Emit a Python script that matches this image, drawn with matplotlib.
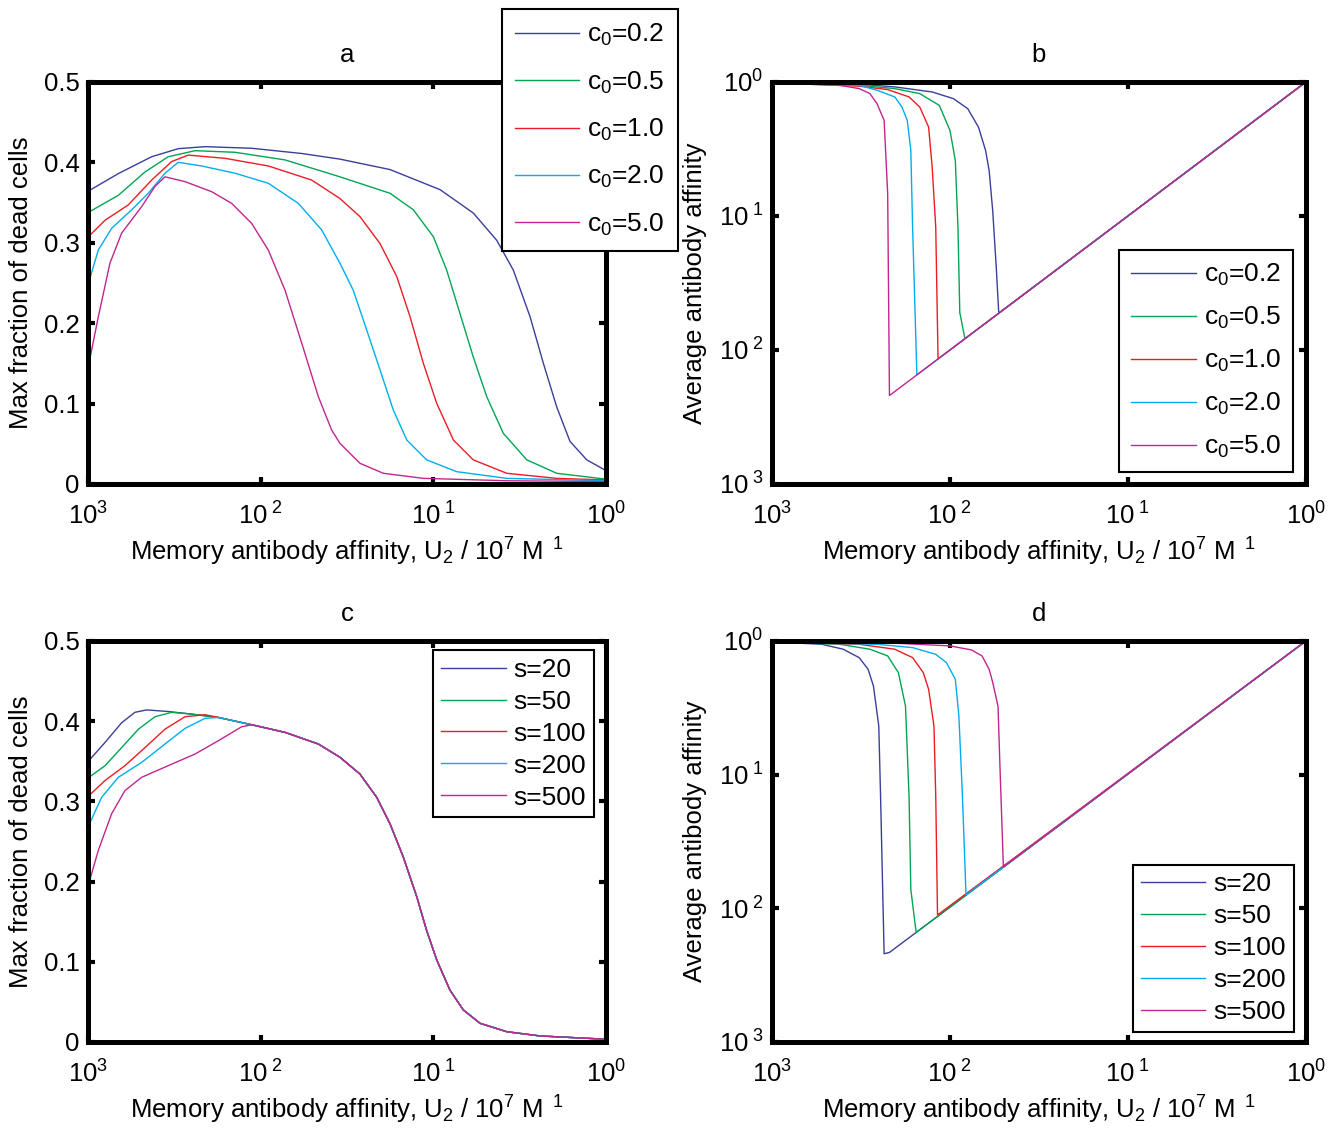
import numpy as np
import matplotlib
matplotlib.use("Agg")
import matplotlib.pyplot as plt

plt.rcParams['font.family'] = 'Liberation Sans'
plt.rcParams['mathtext.fontset'] = 'custom'
plt.rcParams['mathtext.rm'] = 'Liberation Sans'
plt.rcParams['mathtext.it'] = 'Liberation Sans'
plt.rcParams['font.size'] = 18.5

# colores de las series
cols = ['#3a3f9a', '#00a651', '#ed1c24', '#00aeef', '#c2258f']

# ---- panel a: c0, log10(U2) vs max fraction of dead cells ----
c0_labels = ['c$_0$=0.2', 'c$_0$=0.5', 'c$_0$=1.0', 'c$_0$=2.0', 'c$_0$=5.0']
a_x = [
    [-3.0, -2.824, -2.631, -2.477, -2.322, -2.052, -1.762, -1.541, -1.251, -0.961, -0.769, -0.633, -0.537, -0.440, -0.363, -0.286, -0.209, -0.112, 0.0],
    [-3.0, -2.824, -2.670, -2.535, -2.380, -2.149, -1.859, -1.541, -1.251, -1.116, -1.0, -0.923, -0.846, -0.769, -0.691, -0.595, -0.459, -0.286, 0.0],
    [-3.0, -2.901, -2.767, -2.631, -2.515, -2.419, -2.207, -1.956, -1.705, -1.541, -1.425, -1.309, -1.212, -1.135, -1.058, -0.980, -0.884, -0.769, -0.575, -0.286, 0.0],
    [-3.0, -2.940, -2.863, -2.747, -2.651, -2.554, -2.477, -2.342, -2.149, -1.956, -1.782, -1.647, -1.541, -1.464, -1.386, -1.309, -1.232, -1.154, -1.039, -0.865, -0.575, 0.0],
    [-3.0, -2.940, -2.873, -2.805, -2.689, -2.612, -2.554, -2.438, -2.284, -2.168, -2.052, -1.956, -1.859, -1.762, -1.666, -1.589, -1.541, -1.425, -1.290, -1.058, -0.575, 0.0],
]
a_y = [
    [0.364, 0.386, 0.407, 0.417, 0.4195, 0.4175, 0.411, 0.404, 0.391, 0.366, 0.337, 0.303, 0.266, 0.208, 0.150, 0.096, 0.053, 0.030, 0.0166],
    [0.3375, 0.359, 0.388, 0.407, 0.4145, 0.4125, 0.403, 0.382, 0.3615, 0.341, 0.3075, 0.266, 0.212, 0.158, 0.1086, 0.063, 0.030, 0.0133, 0.006],
    [0.307, 0.328, 0.347, 0.378, 0.401, 0.409, 0.405, 0.3955, 0.378, 0.355, 0.3325, 0.299, 0.258, 0.208, 0.150, 0.100, 0.0547, 0.030, 0.0133, 0.007, 0.005],
    [0.2475, 0.291, 0.318, 0.341, 0.3615, 0.3865, 0.400, 0.3955, 0.3865, 0.374, 0.349, 0.316, 0.2745, 0.241, 0.1915, 0.142, 0.092, 0.0547, 0.030, 0.0153, 0.007, 0.004],
    [0.144, 0.208, 0.2745, 0.312, 0.345, 0.370, 0.382, 0.376, 0.3635, 0.349, 0.324, 0.291, 0.241, 0.175, 0.1086, 0.067, 0.0506, 0.0257, 0.0133, 0.007, 0.004, 0.003],
]

# ---- panel b: log10(U2) vs log10(average affinity) ----
b_x = [
    [-3.0, -2.51, -2.31, -2.10, -1.98, -1.90, -1.84, -1.80, -1.78, -1.76, -1.74, -1.726, 0.0],
    [-3.0, -2.51, -2.31, -2.17, -2.06, -2.00, -1.97, -1.955, -1.945, -1.916, 0.0],
    [-3.0, -2.51, -2.35, -2.23, -2.17, -2.12, -2.10, -2.08, -2.067, 0.0],
    [-3.0, -2.51, -2.41, -2.31, -2.27, -2.24, -2.22, -2.21, -2.186, 0.0],
    [-3.0, -2.62, -2.51, -2.45, -2.41, -2.37, -2.35, -2.34, 0.0],
]
b_y = [
    [-0.007, -0.017, -0.037, -0.075, -0.125, -0.20, -0.337, -0.511, -0.661, -0.960, -1.384, -1.726, 0.0],
    [-0.007, -0.025, -0.05, -0.087, -0.175, -0.362, -0.586, -1.09, -1.72, -1.916, 0.0],
    [-0.007, -0.032, -0.057, -0.112, -0.187, -0.337, -0.636, -1.085, -2.067, 0.0],
    [-0.007, -0.025, -0.062, -0.112, -0.187, -0.287, -0.511, -1.085, -2.186, 0.0],
    [-0.007, -0.025, -0.05, -0.087, -0.162, -0.287, -0.835, -2.34, 0.0],
]

# ---- panel c: s, max fraction of dead cells ----
s_labels = ['s=20', 's=50', 's=100', 's=200', 's=500']
c_tail_x = [-2.245, -2.052, -1.859, -1.666, -1.541, -1.425, -1.328, -1.251, -1.174, -1.096, -1.039, -0.980, -0.904, -0.827, -0.730, -0.575, -0.382, 0.0]
c_tail_y = [0.4046, 0.3955, 0.386, 0.3715, 0.355, 0.334, 0.305, 0.272, 0.2305, 0.181, 0.139, 0.102, 0.0647, 0.040, 0.0233, 0.0128, 0.0075, 0.0034]
c_x = [
    [-3.0, -2.901, -2.805, -2.728, -2.660, -2.535, -2.400],
    [-3.0, -2.901, -2.805, -2.708, -2.612, -2.515, -2.400],
    [-3.0, -2.901, -2.786, -2.670, -2.554, -2.438, -2.322],
    [-3.0, -2.921, -2.824, -2.689, -2.554, -2.438, -2.322],
    [-3.0, -2.940, -2.863, -2.786, -2.689, -2.535, -2.380, -2.245, -2.110],
]
c_y = [
    [0.3495, 0.3735, 0.398, 0.411, 0.414, 0.412, 0.4088],
    [0.329, 0.3445, 0.367, 0.390, 0.4055, 0.411, 0.4088],
    [0.306, 0.326, 0.3445, 0.367, 0.390, 0.4055, 0.408],
    [0.268, 0.305, 0.330, 0.3486, 0.3715, 0.391, 0.4035],
    [0.194, 0.239, 0.2845, 0.3134, 0.330, 0.3445, 0.359, 0.3756, 0.393],
]
c_start = [0, 0, 0, 0, 1]  # donde empieza la cola comun

# ---- panel d: s, average affinity ----
d_x = [
    [-3.0, -2.72, -2.60, -2.51, -2.46, -2.43, -2.40, -2.39, -2.37, -2.34, 0.0],
    [-3.0, -2.62, -2.45, -2.35, -2.29, -2.25, -2.23, -2.22, -2.19, 0.0],
    [-3.0, -2.51, -2.31, -2.21, -2.15, -2.12, -2.09, -2.08, -2.07, 0.0],
    [-3.0, -2.41, -2.21, -2.08, -2.02, -1.97, -1.95, -1.93, -1.91, 0.0],
    [-3.0, -2.31, -2.0, -1.88, -1.82, -1.78, -1.76, -1.73, -1.72, -1.70, 0.0],
]
d_y = [
    [-0.007, -0.025, -0.062, -0.125, -0.212, -0.337, -0.637, -1.16, -2.34, -2.33, 0.0],
    [-0.007, -0.025, -0.062, -0.112, -0.237, -0.487, -1.16, -1.86, -2.18, 0.0],
    [-0.007, -0.025, -0.062, -0.125, -0.237, -0.362, -0.637, -1.16, -2.05, 0.0],
    [-0.007, -0.025, -0.05, -0.1, -0.162, -0.287, -0.562, -1.16, -1.90, 0.0],
    [-0.007, -0.017, -0.037, -0.067, -0.112, -0.212, -0.31, -0.49, -0.91, -1.69, 0.0],
]

xticklabs = ['10$^{3}$', '10$^{\\ 2}$', '10$^{\\ 1}$', '10$^{0}$']
yloglabs = ['10$^{\\ 3}$', '10$^{\\ 2}$', '10$^{\\ 1}$', '10$^{0}$']
xlab = 'Memory antibody affinity, U$_2$ / 10$^7$ M$^{\\ \\ 1}$'

fig = plt.figure(figsize=(13.37, 11.30), dpi=100)
axa = fig.add_axes([0.0658, 0.5717, 0.3875, 0.3558])
axb = fig.add_axes([0.5774, 0.5717, 0.3994, 0.3558])
axc = fig.add_axes([0.0658, 0.0779, 0.3875, 0.3549])
axd = fig.add_axes([0.5774, 0.0779, 0.3994, 0.3549])


def estilo(ax, titulo, ylog):
    ax.set_xscale('log')
    ax.set_xlim(1e-3, 1)
    ax.set_xticks([1e-3, 1e-2, 1e-1, 1])
    ax.set_xticklabels(xticklabs)
    ax.minorticks_off()
    if ylog:
        ax.set_yscale('log')
        ax.set_ylim(1e-3, 1)
        ax.set_yticks([1e-3, 1e-2, 1e-1, 1])
        ax.set_yticklabels(yloglabs)
        ax.minorticks_off()
        ax.set_ylabel('Average antibody affinity', labelpad=8)
    else:
        ax.set_ylim(0, 0.5)
        ax.set_yticks([0, 0.1, 0.2, 0.3, 0.4, 0.5])
        ax.set_yticklabels(['0', '0.1', '0.2', '0.3', '0.4', '0.5'])
        ax.set_ylabel('Max fraction of dead cells', labelpad=8)
    for sp in ax.spines.values():
        sp.set_linewidth(3.6)
    ax.tick_params(direction='in', length=5, width=3, top=True, right=True, pad=6)
    ax.tick_params(axis='x', pad=13)
    ax.set_xlabel(xlab, labelpad=5)
    ax.set_title(titulo, fontsize=18.5, pad=14)


for i in range(5):
    axa.plot(10**np.array(a_x[i]), a_y[i], color=cols[i], lw=1, label=c0_labels[i])
    axb.plot(10**np.array(b_x[i]), 10**np.array(b_y[i]), color=cols[i], lw=1, label=c0_labels[i])
    cx = np.concatenate([c_x[i], c_tail_x[c_start[i]:]])
    cy = np.concatenate([c_y[i], c_tail_y[c_start[i]:]])
    axc.plot(10**cx, cy, color=cols[i], lw=1, label=s_labels[i])
    axd.plot(10**np.array(d_x[i]), 10**np.array(d_y[i]), color=cols[i], lw=1, label=s_labels[i])

estilo(axa, 'a', False)
estilo(axb, 'b', True)
estilo(axc, 'c', False)
estilo(axd, 'd', True)

legopts = dict(fancybox=False, framealpha=1, edgecolor='black', borderaxespad=0,
               handlelength=2.45, handletextpad=0.3, fontsize=19)
la = axa.legend(loc='upper right', bbox_to_anchor=(0.5071, 0.992), bbox_transform=fig.transFigure,
                labelspacing=0.8, borderpad=0.5, **legopts)
lb = axb.legend(loc='upper right', bbox_to_anchor=(0.9671, 0.7788), bbox_transform=fig.transFigure,
                labelspacing=0.64, borderpad=0.45, **legopts)
lc = axc.legend(loc='upper right', bbox_to_anchor=(0.4443, 0.4248), bbox_transform=fig.transFigure,
                labelspacing=0.3, borderpad=0.3, **legopts)
ld = axd.legend(loc='lower right', bbox_to_anchor=(0.9678, 0.0867), bbox_transform=fig.transFigure,
                labelspacing=0.3, borderpad=0.3, **legopts)
for lg in [la, lb, lc, ld]:
    lg.get_frame().set_linewidth(1.5)
    lg.set_zorder(5)

fig.savefig('out.png', dpi=100)
